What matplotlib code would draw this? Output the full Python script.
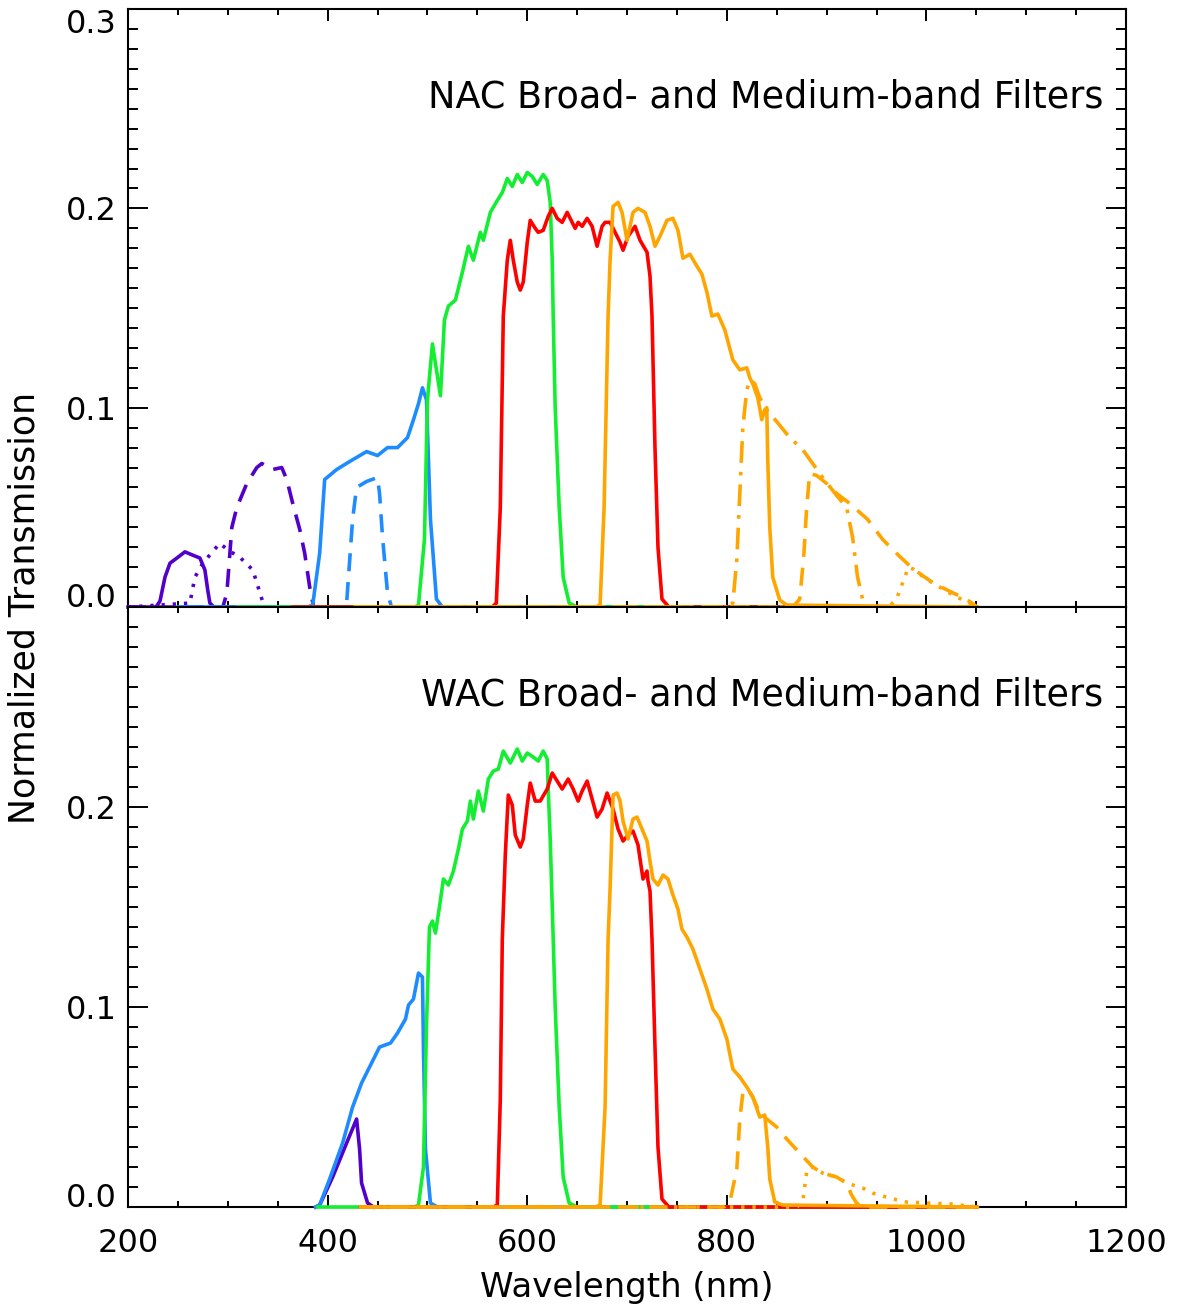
import numpy as np
import matplotlib
matplotlib.use("Agg")
import matplotlib.pyplot as plt
from matplotlib.ticker import MultipleLocator

"""Filter curves read off the figure (wavelength in nm, normalized transmission)"""

# NAC, upper panel
nac_uv_solid_nm = [200, 228, 232, 237, 242, 250, 257, 265, 272, 277, 280, 282, 286, 1050]
nac_uv_solid_t = [0, 0, 0.003, 0.015, 0.022, 0.025, 0.0277, 0.026, 0.0246, 0.0186, 0.008, 0.002, 0, 0]

nac_uv_dot_nm = [200, 262, 267, 275, 285, 292, 300, 312, 325, 335, 340, 1050]
nac_uv_dot_t = [0, 0.002, 0.015, 0.022, 0.028, 0.032, 0.0286, 0.025, 0.0186, 0.0025, 0, 0]

nac_uv_dash_nm = [200, 295, 299, 304, 309, 319, 329, 334, 345, 354, 359, 365, 372, 377, 382, 386, 1050]
nac_uv_dash_t = [0, 0, 0.007, 0.040, 0.050, 0.062, 0.070, 0.072, 0.069, 0.070, 0.064, 0.052, 0.039,
                 0.027, 0.010, 0, 0]

nac_blue_nm = [250, 380, 385, 392, 397, 409, 422, 439, 450, 460, 470, 480, 486, 491, 495, 499, 503,
               509, 515, 1050]
nac_blue_t = [0, 0, 0.001, 0.027, 0.064, 0.069, 0.073, 0.078, 0.076, 0.080, 0.080, 0.085, 0.094,
              0.102, 0.110, 0.104, 0.044, 0.004, 0, 0]

nac_blue_dash_nm = [250, 415, 419, 425, 429, 439, 450, 452, 455, 460, 464, 1050]
nac_blue_dash_t = [0, 0, 0.002, 0.044, 0.060, 0.063, 0.065, 0.057, 0.035, 0.007, 0, 0]

nac_green_nm = [310, 487, 491, 497, 500, 505, 509, 513, 517, 521, 528, 535, 541, 546, 553, 556, 563,
                570, 575, 580, 585, 590, 595, 600, 605, 610, 616, 620, 623, 625, 626, 628, 632, 636,
                642, 650, 1050]
nac_green_t = [0, 0, 0.001, 0.034, 0.104, 0.132, 0.119, 0.106, 0.144, 0.151, 0.154, 0.168, 0.181,
               0.174, 0.188, 0.184, 0.198, 0.204, 0.208, 0.215, 0.211, 0.217, 0.213, 0.218, 0.216,
               0.212, 0.217, 0.214, 0.203, 0.174, 0.146, 0.10, 0.05, 0.015, 0.002, 0, 0]

nac_red_nm = [365, 565, 569, 573, 576, 580, 583, 586, 590, 593, 596, 600, 603, 608, 611, 616, 621,
              625, 630, 635, 640, 645, 648, 651, 655, 660, 665, 670, 675, 678, 683, 688, 693, 696,
              701, 708, 713, 720, 723, 725, 728, 731, 735, 742, 1050]
nac_red_t = [0, 0, 0.002, 0.05, 0.146, 0.174, 0.184, 0.174, 0.163, 0.159, 0.163, 0.183, 0.194,
             0.190, 0.188, 0.189, 0.196, 0.200, 0.195, 0.193, 0.198, 0.193, 0.190, 0.193, 0.191,
             0.195, 0.191, 0.181, 0.191, 0.193, 0.193, 0.188, 0.183, 0.179, 0.186, 0.191, 0.184,
             0.178, 0.166, 0.146, 0.08, 0.03, 0.004, 0, 0]

nac_orange_nm = [427, 668, 673, 677, 681, 683, 686, 691, 695, 700, 706, 711, 718, 723, 728, 733,
                 740, 746, 751, 756, 763, 770, 775, 780, 785, 791, 798, 806, 813, 820, 823, 826,
                 831, 835, 838, 840, 841, 843, 846, 853, 860, 1050]
nac_orange_t = [0, 0, 0.001, 0.05, 0.146, 0.174, 0.201, 0.203, 0.198, 0.184, 0.198, 0.200, 0.198,
                0.191, 0.181, 0.186, 0.194, 0.195, 0.189, 0.175, 0.177, 0.171, 0.167, 0.158, 0.146,
                0.147, 0.139, 0.124, 0.119, 0.120, 0.115, 0.112, 0.105, 0.094, 0.099, 0.100, 0.074,
                0.040, 0.015, 0.0035, 0.001, 0]

nac_ir_dashdot_nm = [427, 800, 806, 810, 813, 816, 820, 823, 828, 833, 840, 850, 863, 876, 886, 896,
                     910, 920, 926, 931, 936, 942, 1050]
nac_ir_dashdot_t = [0, 0, 0.002, 0.024, 0.057, 0.090, 0.109, 0.114, 0.112, 0.105, 0.099, 0.093,
                    0.085, 0.079, 0.072, 0.065, 0.056, 0.050, 0.035, 0.015, 0.004, 0, 0]

nac_ir_dash_nm = [427, 866, 873, 877, 880, 883, 890, 900, 910, 923, 941, 956, 974, 987, 1007, 1027,
                  1040, 1051]
nac_ir_dash_t = [0, 0, 0.004, 0.025, 0.050, 0.067, 0.066, 0.062, 0.057, 0.052, 0.044, 0.034, 0.025,
                 0.019, 0.012, 0.007, 0.004, 0]

nac_ir_dot_nm = [427, 962, 970, 976, 982, 987, 1000, 1010, 1020, 1030, 1040, 1051]
nac_ir_dot_t = [0, 0, 0.004, 0.012, 0.020, 0.019, 0.014, 0.011, 0.008, 0.005, 0.003, 0]

# WAC, lower panel
wac_uv_nm = [388, 392, 405, 419, 429, 432, 434, 440, 446]
wac_uv_t = [0, 0.001, 0.015, 0.032, 0.044, 0.029, 0.012, 0.002, 0]

wac_blue_nm = [388, 392, 402, 415, 425, 434, 442, 452, 463, 470, 478, 481, 486, 491, 495, 496, 498,
               503, 510, 1050]
wac_blue_t = [0, 0.001, 0.014, 0.032, 0.050, 0.062, 0.070, 0.080, 0.082, 0.087, 0.094, 0.101,
              0.104, 0.117, 0.115, 0.079, 0.029, 0.002, 0, 0]

wac_green_nm = [390, 487, 491, 496, 499, 502, 505, 508, 512, 516, 521, 526, 531, 535, 540, 543, 546,
                551, 556, 561, 566, 571, 576, 583, 590, 595, 600, 606, 611, 616, 620, 621, 623, 625,
                626, 628, 632, 636, 642, 650, 1050]
wac_green_t = [0, 0, 0.001, 0.02, 0.09, 0.140, 0.143, 0.137, 0.150, 0.164, 0.161, 0.168, 0.179,
               0.189, 0.193, 0.203, 0.194, 0.208, 0.198, 0.214, 0.218, 0.219, 0.228, 0.222, 0.229,
               0.223, 0.227, 0.225, 0.223, 0.228, 0.224, 0.209, 0.184, 0.151, 0.134, 0.10, 0.05,
               0.015, 0.002, 0, 0]

wac_red_nm = [433, 566, 570, 573, 575, 578, 581, 585, 588, 593, 596, 600, 603, 608, 613, 620, 625,
              630, 635, 641, 646, 651, 655, 660, 665, 670, 675, 680, 686, 691, 696, 701, 706, 711,
              716, 720, 721, 723, 725, 728, 731, 735, 742, 1050]
wac_red_t = [0, 0, 0.001, 0.054, 0.134, 0.176, 0.206, 0.201, 0.186, 0.180, 0.184, 0.201, 0.212,
             0.203, 0.203, 0.209, 0.217, 0.213, 0.209, 0.214, 0.209, 0.203, 0.208, 0.213, 0.204,
             0.195, 0.199, 0.207, 0.199, 0.189, 0.183, 0.186, 0.188, 0.181, 0.164, 0.168, 0.163,
             0.158, 0.134, 0.08, 0.03, 0.004, 0, 0]

wac_orange_nm = [433, 668, 673, 678, 681, 683, 686, 690, 693, 696, 701, 706, 710, 715, 720, 723,
                 726, 731, 736, 741, 746, 751, 755, 760, 766, 773, 780, 786, 793, 800, 806, 813,
                 820, 826, 833, 838, 841, 843, 848, 856, 1051]
wac_orange_t = [0, 0, 0.001, 0.05, 0.134, 0.159, 0.206, 0.207, 0.203, 0.193, 0.184, 0.194, 0.195,
                0.189, 0.183, 0.173, 0.164, 0.161, 0.166, 0.164, 0.156, 0.149, 0.139, 0.135, 0.129,
                0.119, 0.109, 0.099, 0.094, 0.084, 0.069, 0.065, 0.060, 0.055, 0.045, 0.046, 0.030,
                0.014, 0.0025, 0.001, 0]

wac_ir_dash_nm = [433, 797, 803, 810, 813, 816, 821, 826, 833, 840, 850, 860, 873, 886, 896, 910,
                  920, 925, 930, 935, 1051]
wac_ir_dash_t = [0, 0, 0.0025, 0.019, 0.044, 0.057, 0.059, 0.055, 0.047, 0.044, 0.040, 0.034,
                 0.027, 0.020, 0.017, 0.015, 0.012, 0.006, 0.002, 0, 0]

wac_ir_dot_nm = [433, 870, 876, 880, 883, 886, 896, 910, 920, 936, 946, 963, 980, 1001, 1025, 1051]
wac_ir_dot_t = [0, 0, 0.0025, 0.0176, 0.020, 0.020, 0.017, 0.015, 0.012, 0.0095, 0.007, 0.0045,
                0.0025, 0.002, 0.0015, 0]

PURPLE = '#5200cc'
BLUE = '#1e8cff'
GREEN = '#14ee32'
RED = '#ff0000'
ORANGE = '#ffa500'

SOLID = '-'
DOT = (0, (0.9, 2.2))
DASH = (0, (5, 3))
DASHDOT = (0, (6, 2.5, 1, 2.5))


def curve(ax, nm, t, color, ls):
    ax.plot(nm, t, color=color, linestyle=ls, lw=2.6, zorder=3, clip_on=False)


def style_axis(ax, labels):
    ax.set_xlim(200, 1200)
    ax.set_ylim(0, 0.3)
    ax.xaxis.set_major_locator(MultipleLocator(200))
    ax.xaxis.set_minor_locator(MultipleLocator(50))
    ax.set_yticks([0.0, 0.1, 0.2, 0.3])
    ax.set_yticklabels(labels)
    ax.yaxis.set_minor_locator(MultipleLocator(0.01))
    ax.tick_params(which='both', direction='in', top=True, right=True, width=1.4, labelsize=23)
    ax.tick_params(axis='x', which='major', length=8.6, pad=15)
    ax.tick_params(axis='x', which='minor', length=4.3)
    ax.tick_params(axis='y', which='major', length=14.4, pad=8)
    ax.tick_params(axis='y', which='minor', length=7.2)
    for s in ax.spines.values():
        s.set_linewidth(1.5)
    ticks = ax.yaxis.get_major_ticks()
    # end labels sit inside the frame, like the original
    ticks[0].label1.set_va('baseline')
    ticks[-1].label1.set_va('top')


def main():
    plt.rcParams['font.family'] = ['DejaVu Sans']
    fig = plt.figure(figsize=(11.77, 13.12), dpi=100)
    ax1 = fig.add_axes([0.1088, 0.5373, 0.8479, 0.4558])
    ax2 = fig.add_axes([0.1088, 0.0800, 0.8479, 0.4573])

    """NAC"""
    curve(ax1, nac_uv_solid_nm, nac_uv_solid_t, PURPLE, SOLID)
    curve(ax1, nac_uv_dot_nm, nac_uv_dot_t, PURPLE, DOT)
    curve(ax1, nac_uv_dash_nm, nac_uv_dash_t, PURPLE, DASH)
    curve(ax1, nac_blue_nm, nac_blue_t, BLUE, SOLID)
    curve(ax1, nac_blue_dash_nm, nac_blue_dash_t, BLUE, DASH)
    curve(ax1, nac_green_nm, nac_green_t, GREEN, SOLID)
    curve(ax1, nac_red_nm, nac_red_t, RED, SOLID)
    curve(ax1, nac_ir_dashdot_nm, nac_ir_dashdot_t, ORANGE, DASHDOT)
    curve(ax1, nac_ir_dash_nm, nac_ir_dash_t, ORANGE, DASH)
    curve(ax1, nac_ir_dot_nm, nac_ir_dot_t, ORANGE, DOT)
    curve(ax1, nac_orange_nm, nac_orange_t, ORANGE, SOLID)
    style_axis(ax1, ['0.0', '0.1', '0.2', '0.3'])
    ax1.tick_params(labelbottom=False)
    ax1.text(0.977, 0.853, 'NAC Broad- and Medium-band Filters', transform=ax1.transAxes,
             ha='right', va='center', fontsize=26.4)

    """WAC"""
    curve(ax2, wac_uv_nm, wac_uv_t, PURPLE, SOLID)
    curve(ax2, wac_blue_nm, wac_blue_t, BLUE, SOLID)
    curve(ax2, wac_green_nm, wac_green_t, GREEN, SOLID)
    curve(ax2, wac_red_nm, wac_red_t, RED, SOLID)
    curve(ax2, wac_ir_dash_nm, wac_ir_dash_t, ORANGE, DASH)
    curve(ax2, wac_ir_dot_nm, wac_ir_dot_t, ORANGE, DOT)
    curve(ax2, wac_orange_nm, wac_orange_t, ORANGE, SOLID)
    style_axis(ax2, ['0.0', '0.1', '0.2', ''])
    ax2.text(0.977, 0.853, 'WAC Broad- and Medium-band Filters', transform=ax2.transAxes,
             ha='right', va='center', fontsize=26.4)

    fig.text(0.0212, 0.537, 'Normalized Transmission', rotation=90, ha='center', va='center',
             fontsize=25)
    fig.text(0.5327, 0.0183, 'Wavelength (nm)', ha='center', va='center', fontsize=24.5)

    fig.savefig('out.png', dpi=100, facecolor='white')


main()
